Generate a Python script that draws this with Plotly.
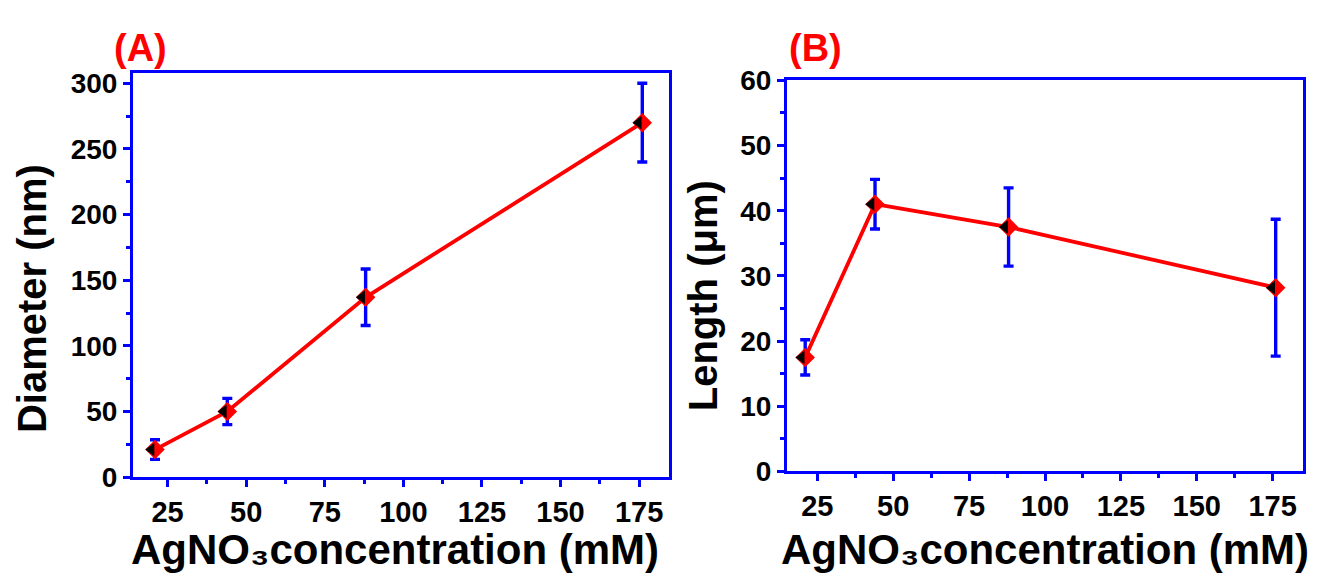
import plotly.graph_objects as go

# ---- data ----
conc = [21, 44, 88, 176]                 # AgNO3 concentration (mM)
diameter = [21, 50, 137, 270]            # nm
diameter_err = [7.5, 10, 21.5, 30]
length = [17.5, 41, 37.5, 28.2]          # µm
length_err = [2.7, 3.8, 6, 10.5]

x_ticks = [25, 50, 75, 100, 125, 150, 175]
yA_ticks = [0, 50, 100, 150, 200, 250, 300]
yB_ticks = [0, 10, 20, 30, 40, 50, 60]

W, H = 1321, 585
xA_range = [14, 184.5]
yA_range = [0, 308]
xB_range = [15, 185]
yB_range = [0, 60]
domA_x = [133 / W, 669 / W]
domA_y = [1 - 488 / H, 1 - 61 / H]
domB_x = [787 / W, 1303 / W]
domB_y = [1 - 482 / H, 1 - 69 / H]

RED = "#ff0000"
BLUE = "#0000ff"
FONT = "Liberation Sans, Arial, sans-serif"


def px_per_unit(rng, dom):
    return (dom[1] - dom[0]) * W / (rng[1] - rng[0])


fig = go.Figure()


def add_series(xs, ys, errs, xa, ya, rng, dom):
    fig.add_trace(go.Scatter(
        x=xs, y=ys, xaxis=xa, yaxis=ya, mode="lines+markers",
        line=dict(color=RED, width=3.8),
        marker=dict(symbol="diamond", size=15, color=RED, line=dict(width=0)),
        error_y=dict(type="data", array=errs, visible=True, color=BLUE,
                     thickness=3.4, width=5),
        showlegend=False, hoverinfo="skip"))
    # black left half of the diamond marker (style decoration)
    shift = 3.7 / px_per_unit(rng, dom)
    fig.add_trace(go.Scatter(
        x=[v - shift for v in xs], y=ys, xaxis=xa, yaxis=ya, mode="markers",
        marker=dict(symbol="triangle-left", size=12, color="black",
                    line=dict(width=0)),
        showlegend=False, hoverinfo="skip"))


add_series(conc, diameter, diameter_err, "x", "y", xA_range, domA_x)
add_series(conc, length, length_err, "x2", "y2", xB_range, domB_x)

xtickfont = dict(family=FONT, size=29, color="black", weight="bold")
ytickfont = dict(family=FONT, size=28, color="black", weight="bold")
axis_common = dict(
    showline=True, linecolor=BLUE, linewidth=3, mirror=True,
    ticks="outside", ticklen=7, tickwidth=3, tickcolor=BLUE,
    showgrid=False, zeroline=False,
)

fig.update_layout(
    width=W, height=H,
    margin=dict(l=0, r=0, t=0, b=0),
    paper_bgcolor="white", plot_bgcolor="white",
    xaxis=dict(domain=domA_x, range=xA_range, tickvals=x_ticks, anchor="y",
               tickfont=xtickfont, ticklabelstandoff=0,
               minor=dict(ticks="outside", ticklen=4, tickwidth=3, tickcolor=BLUE, dtick=12.5, tick0=0),
               **axis_common),
    yaxis=dict(domain=domA_y, range=yA_range, tickvals=yA_ticks, anchor="x",
               tickfont=ytickfont,
               minor=dict(ticks="outside", ticklen=4, tickwidth=3, tickcolor=BLUE, dtick=25, tick0=0),
               **axis_common),
    xaxis2=dict(domain=domB_x, range=xB_range, tickvals=x_ticks, anchor="y2",
                tickfont=xtickfont, ticklabelstandoff=0,
                minor=dict(ticks="outside", ticklen=4, tickwidth=3, tickcolor=BLUE, dtick=12.5, tick0=0),
                **axis_common),
    yaxis2=dict(domain=domB_y, range=yB_range, tickvals=yB_ticks, anchor="x2",
                tickfont=ytickfont,
                minor=dict(ticks="outside", ticklen=4, tickwidth=3, tickcolor=BLUE, dtick=5, tick0=0),
                **axis_common),
)

ytitle_font = dict(family=FONT, size=40, color="black", weight="bold")
xtitle_font = dict(family=FONT, size=42, color="black", weight="bold")
label_font = dict(family=FONT, size=38, color=RED, weight="bold")

xtitle = "AgNO₃concentration (mM)"

annotations = [
    dict(text="(A)", x=140 / W, y=1 - 35 / H, yanchor="middle", font=label_font),
    dict(text="(B)", x=815 / W, y=1 - 35 / H, yanchor="middle", font=label_font),
    dict(text="Diameter (nm)", x=32 / W, y=1 - 300 / H, yanchor="middle",
         textangle=-90, font=ytitle_font),
    dict(text="Length (μm)", x=703 / W, y=1 - 297 / H, yanchor="middle",
         textangle=-90, font=ytitle_font),
    dict(text=xtitle, x=395 / W, y=-5 / H,
         yanchor="bottom", font=xtitle_font, borderpad=0),
    dict(text=xtitle, x=1045 / W, y=-5 / H,
         yanchor="bottom", font=xtitle_font, borderpad=0),
]
for a in annotations:
    fig.add_annotation(xref="paper", yref="paper", showarrow=False,
                       xanchor="center", **a)

fig.write_html("out.html")
